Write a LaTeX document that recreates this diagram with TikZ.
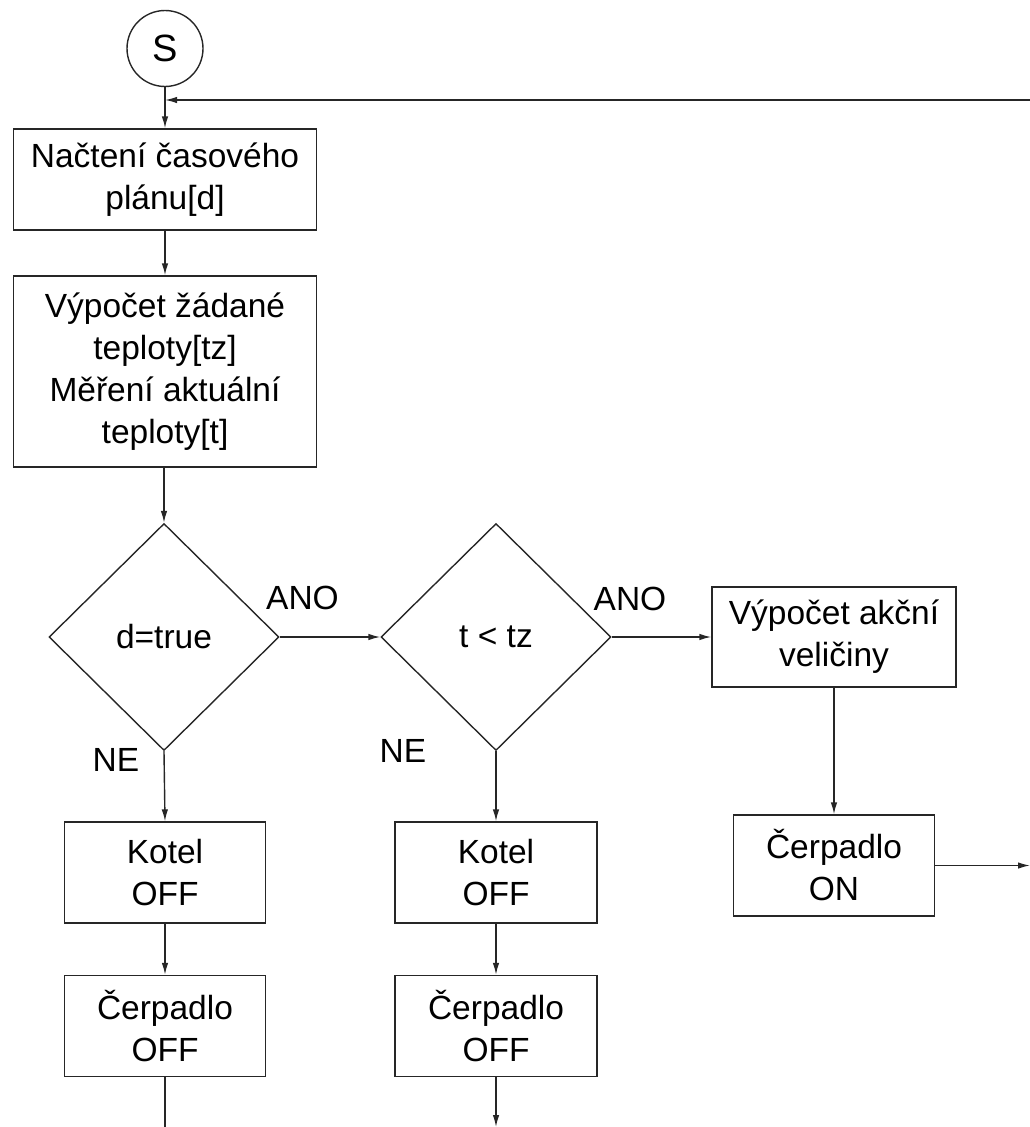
\documentclass[tikz,border=0pt]{standalone}
\usepackage{fontspec}
\setmainfont{Liberation Sans}
\usetikzlibrary{shapes.geometric,arrows.meta}
\begin{document}
\begin{tikzpicture}[x=1pt,y=-1pt,
  every node/.style={font=\fontsize{33.5}{42}\selectfont},
  ln/.style={draw=black!85,line width=1.4pt},
  procbox/.style={ln,rectangle,align=center,inner sep=0pt},
  decision/.style={ln,diamond,inner sep=0pt,minimum width=230pt,minimum height=227pt},
  startnode/.style={ln,circle,inner sep=0pt,minimum size=76pt,font=\fontsize{38}{42}\selectfont},
  flow/.style={ln,-{Latex[length=12pt,width=6.5pt]}},
  plain/.style={ln},
  lbl/.style={inner sep=0pt}]
\useasboundingbox (0,0) rectangle (1030,1127);

% start terminal
\node[startnode] (start) at (165,48.5) {S};

% main column
\node[procbox,minimum width=303pt,minimum height=101pt] (plan) at (165,179.5)
  {Načtení časového\\plánu[d]};
\node[procbox,minimum width=303pt,minimum height=191pt] (calc) at (165,371.5)
  {Výpočet žádané\\teploty[tz]\\Měření aktuální\\teploty[t]};

% decisions
\node[decision] (dtrue) at (164,637) {d=true};
\node[decision] (dtemp) at (496,637) {t < tz};

% action branch
\node[procbox,minimum width=244pt,minimum height=100pt] (akce) at (834,637)
  {Výpočet akční\\veličiny};
\node[procbox,minimum width=201pt,minimum height=101pt] (pon) at (834,865.5)
  {Čerpadlo\\ON};

% NE branches
\node[procbox,minimum width=201pt,minimum height=101pt] (kotelA) at (165,872.5)
  {Kotel\\OFF};
\node[procbox,minimum width=201pt,minimum height=101pt] (cerpA) at (165,1026)
  {Čerpadlo\\OFF};
\node[procbox,minimum width=202pt,minimum height=101pt] (kotelB) at (496,872.5)
  {Kotel\\OFF};
\node[procbox,minimum width=202pt,minimum height=101pt] (cerpB) at (496,1026)
  {Čerpadlo\\OFF};

% branch labels
\node[lbl] (anoA) at (302.5,598) {ANO};
\node[lbl] (anoB) at (630,599) {ANO};
\node[lbl] (neA) at (116,760) {NE};
\node[lbl] (neB) at (403,751) {NE};

% free ends
\coordinate (loopin) at (1030,100);
\coordinate (join) at (165,100);
\coordinate (outR) at (1030,865.5);
\coordinate (endA) at (165,1127);
\coordinate (endB) at (496,1127);

% connectors
\draw[flow] (start.south) -- (plan.north);
\draw[flow] (loopin) -- (join);
\draw[flow] (plan.south) -- (calc.north);
\draw[flow] (calc.south -| dtrue.north) -- (dtrue.north);
\draw[flow] (dtrue.east) -- (dtemp.west);
\draw[flow] (dtemp.east) -- (akce.west);
\draw[flow] (akce.south) -- (pon.north);
\draw[flow] (pon.east) -- (outR);
\draw[flow] (dtrue.south) -- (kotelA.north);
\draw[flow] (kotelA.south) -- (cerpA.north);
\draw[plain] (cerpA.south) -- (endA);
\draw[flow] (dtemp.south) -- (kotelB.north);
\draw[flow] (kotelB.south) -- (cerpB.north);
\draw[flow] (cerpB.south) -- (endB);
\end{tikzpicture}
\end{document}
